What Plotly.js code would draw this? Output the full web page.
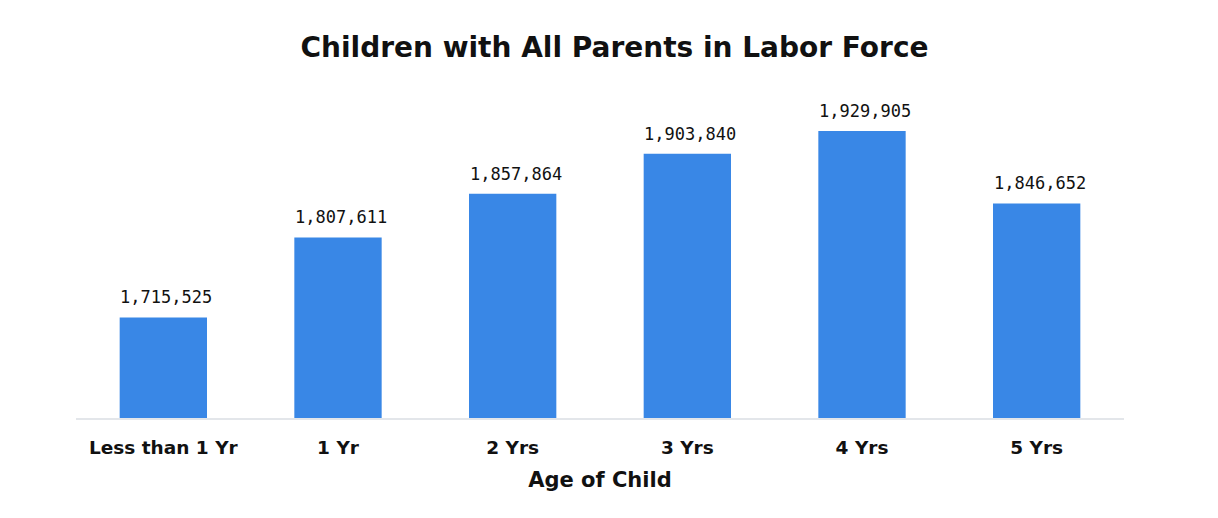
<!DOCTYPE html>
<html>
<head>
<meta charset="utf-8">
<script src="https://cdn.plot.ly/plotly-3.0.1.min.js"></script>
<style>html,body{margin:0;padding:0;background:#fff;}#chart{width:1218px;height:518px;}</style>
</head>
<body>
<div id="chart"></div>
<script>
const categories = ["Less than 1 Yr", "1 Yr", "2 Yrs", "3 Yrs", "4 Yrs", "5 Yrs"];
const values = [1715525, 1807611, 1857864, 1903840, 1929905, 1846652];
const valueLabels = ["1,715,525", "1,807,611", "1,857,864", "1,903,840", "1,929,905", "1,846,652"];

const boldFamily = "'DejaVu Sans', sans-serif";
const labelFont = {family: boldFamily, size: 18.5, color: "#111", weight: 700};

const trace = {
  type: "bar",
  x: categories,
  y: values,
  marker: {color: "#3987e6"},
  hoverinfo: "none"
};

const annotations = categories.map((c, i) => ({
  x: c, y: values[i], xref: "x", yref: "y",
  text: valueLabels[i], showarrow: false,
  yanchor: "bottom", yshift: 8, xshift: 3,
  font: {family: "'DejaVu Sans Mono', monospace", size: 17, color: "#111"}
}));

const layout = {
  width: 1218, height: 518,
  margin: {l: 76, r: 94, t: 70, b: 100},
  paper_bgcolor: "#fff", plot_bgcolor: "#fff",
  bargap: 0.5,
  showlegend: false,
  title: {
    text: "Children with All Parents in Labor Force",
    font: {family: boldFamily, size: 28, color: "#111", weight: 700},
    xref: "container", x: 0.5045, xanchor: "center",
    yref: "container", y: 1 - 47/518, yanchor: "middle"
  },
  xaxis: {
    type: "category",
    showline: true, linecolor: "#e3e6ea", linewidth: 2,
    showgrid: false, zeroline: false, ticks: "",
    ticklabelstandoff: 12,
    tickfont: labelFont,
    title: {text: "Age of Child", font: {family: boldFamily, size: 21, color: "#111", weight: 700}, standoff: 15}
  },
  yaxis: {
    range: [1600000, 2000000],
    visible: false, showgrid: false, zeroline: false
  },
  annotations: annotations
};

Plotly.newPlot("chart", [trace], layout, {displayModeBar: false, staticPlot: true});
</script>
</body>
</html>
